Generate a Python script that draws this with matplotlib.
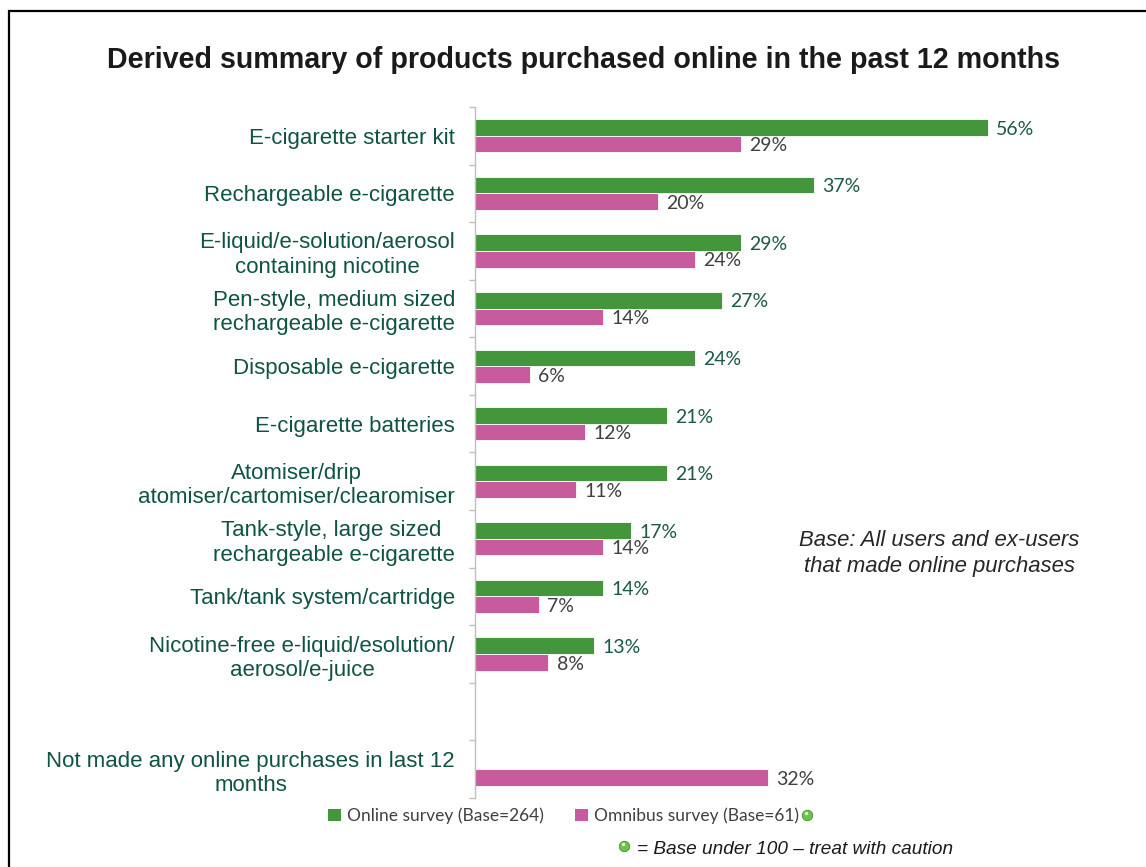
import numpy as np
import matplotlib
matplotlib.use("Agg")
import matplotlib.pyplot as plt
from matplotlib.patches import Rectangle, Patch

plt.rcParams['font.family'] = ['Liberation Sans', 'DejaVu Sans']

categories = [
    "E-cigarette starter kit",
    "Rechargeable e-cigarette",
    "E-liquid/e-solution/aerosol\ncontaining nicotine",
    "Pen-style, medium sized\nrechargeable e-cigarette",
    "Disposable e-cigarette",
    "E-cigarette batteries",
    "Atomiser/drip\natomiser/cartomiser/clearomiser",
    "Tank-style, large sized \nrechargeable e-cigarette",
    "Tank/tank system/cartridge",
    "Nicotine-free e-liquid/esolution/\naerosol/e-juice",
    "",
    "Not made any online purchases in last 12\nmonths",
]
online = [56, 37, 29, 27, 24, 21, 21, 17, 14, 13, None, None]
omnibus = [29, 20, 24, 14, 6, 12, 11, 14, 7, 8, None, 32]

series_names = ["Online survey (Base=264)", "Omnibus survey (Base=61)"]

GREEN = "#43963b"
PINK = "#c85a9e"
LABEL_GREEN = "#0f5443"
VALUE_GREEN = "#1b5a44"
VALUE_GREY = "#404040"
BALL = "#6cc24a"

fig = plt.figure(figsize=(11.46, 8.67), dpi=100)
ax = fig.add_axes([0.4145, 0.0796, 0.4956, 0.797])

y = np.arange(len(categories))
h = 0.2875

on_y = [y[i] - h / 2 for i, v in enumerate(online) if v is not None]
on_v = [v for v in online if v is not None]
om_y = [y[i] + h / 2 for i, v in enumerate(omnibus) if v is not None]
om_v = [v for v in omnibus if v is not None]

ax.barh(on_y, on_v, height=h, color=GREEN, edgecolor="white", linewidth=0.6,
        label=series_names[0])
ax.barh(om_y, om_v, height=h, color=PINK, edgecolor="white", linewidth=0.6,
        label=series_names[1])

for yy, v in zip(on_y, on_v):
    ax.text(v + 0.9, yy + 0.03, f"{v}%", va="center", ha="left",
            fontsize=14, color=VALUE_GREEN, family="Lato")
for yy, v in zip(om_y, om_v):
    ax.text(v + 0.9, yy + 0.03, f"{v}%", va="center", ha="left",
            fontsize=14, color=VALUE_GREY, family="Lato")

ax.set_xlim(0, 62)
ax.set_ylim(len(categories) - 0.5, -0.5)
ax.set_yticks(y)
ax.set_yticklabels(categories, fontsize=16, color=LABEL_GREEN)
for lab in ax.get_yticklabels():
    lab.set_multialignment("center")
ax.set_yticks(np.arange(len(categories) + 1) - 0.5, minor=True)
ax.tick_params(axis="y", which="major", length=0, pad=14.5)
ax.tick_params(axis="y", which="minor", length=4.5, width=1, color="#bfbfbf",
               direction="out")
ax.xaxis.set_visible(False)
for s in ["top", "right", "bottom"]:
    ax.spines[s].set_visible(False)
ax.spines["left"].set_color("#bfbfbf")
ax.spines["left"].set_linewidth(1)

fig.text(0.509, 0.931, "Derived summary of products purchased online in the past 12 months",
         ha="center", va="center", fontsize=20.6, fontweight="bold", color="#1a1a1a")

fig.text(0.8195, 0.362, "Base: All users and ex-users\nthat made online purchases",
         ha="center", va="center", fontsize=15.9, style="italic", color="#262626",
         linespacing=1.32)

# legend below the axis
handles = [Patch(facecolor=GREEN), Patch(facecolor=PINK)]
leg = fig.legend(handles, series_names, loc="center left",
                 bbox_to_anchor=(0.280, 0.059), ncol=2, frameon=False,
                 handlelength=0.75, handleheight=0.75, handletextpad=0.35,
                 columnspacing=1.82, borderaxespad=0,
                 prop={"family": "Lato", "size": 12.5})
for t in leg.get_texts():
    t.set_color("#404040")

# caution markers
for bx, by in [(807 / 1146, 1 - 815 / 867), (624 / 1146, 1 - 846 / 867)]:
    fig.add_artist(plt.Line2D([bx], [by], marker="o", markersize=7.5,
                              markerfacecolor=BALL, markeredgecolor="#3f8f2a",
                              markeredgewidth=0.6, transform=fig.transFigure))
    fig.add_artist(plt.Line2D([bx - 0.0012], [by + 0.0018], marker="o", markersize=2.5,
                              markerfacecolor="#d9f5c8", markeredgewidth=0,
                              transform=fig.transFigure))
fig.text(637 / 1146, 1 - 850 / 867, "= Base under 100 \u2013 treat with caution",
         ha="left", va="center", fontsize=13.7, style="italic", color="#1a1a1a")

# outer frame
fig.add_artist(Rectangle((9 / 1146, -0.1), 1.2, 1 - 11 / 867 + 0.1,
                         transform=fig.transFigure, fill=False,
                         edgecolor="black", linewidth=1.6))

fig.savefig("out.png", dpi=100)
